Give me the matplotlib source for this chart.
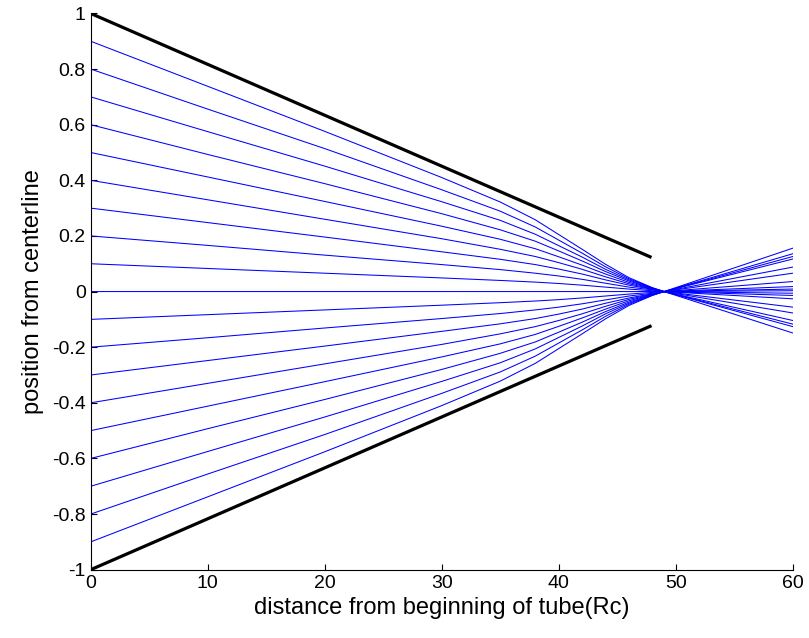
import matplotlib.pyplot as plt
import numpy as np

plt.rcParams['font.family'] = ['Liberation Sans', 'DejaVu Sans']

# tube wall: radius 1 at the inlet, 0.125 at the exit
wall_x = [0, 47.8]
wall_r = [1, 0.125]

# streamline positions up to the focus (upper half, start 0.9 ... 0.1)
x_pts = [0, 10, 20, 30, 35, 38, 40, 42, 44, 46, 48, 49]
upper_paths = [
    [0.9, 0.738, 0.576, 0.410, 0.322, 0.258, 0.205, 0.152, 0.098, 0.050, 0.014, 0],
    [0.8, 0.656, 0.514, 0.366, 0.289, 0.232, 0.185, 0.138, 0.089, 0.046, 0.013, 0],
    [0.7, 0.575, 0.451, 0.323, 0.256, 0.206, 0.165, 0.124, 0.080, 0.042, 0.012, 0],
    [0.6, 0.493, 0.388, 0.280, 0.222, 0.181, 0.146, 0.110, 0.072, 0.038, 0.011, 0],
    [0.5, 0.412, 0.324, 0.235, 0.188, 0.154, 0.125, 0.095, 0.063, 0.033, 0.010, 0],
    [0.4, 0.330, 0.260, 0.190, 0.152, 0.126, 0.104, 0.080, 0.053, 0.028, 0.009, 0],
    [0.3, 0.248, 0.196, 0.143, 0.116, 0.097, 0.081, 0.063, 0.042, 0.023, 0.008, 0],
    [0.2, 0.166, 0.131, 0.097, 0.079, 0.066, 0.056, 0.044, 0.030, 0.016, 0.006, 0],
    [0.1, 0.083, 0.066, 0.049, 0.040, 0.034, 0.029, 0.023, 0.016, 0.009, 0.003, 0],
]
center_path = [0] * len(x_pts)

# position of each streamline at x = 60 (same order: 0.9 ... -0.9)
end_x = 60
exit_y = [-0.149, -0.126, -0.117, -0.104, -0.077, -0.056, -0.026, -0.014, -0.006,
          0.003,
          0.009, 0.018, 0.036, 0.066, 0.088, 0.117, 0.126, 0.136, 0.156]

y_ticks = [-1, -0.8, -0.6, -0.4, -0.2, 0, 0.2, 0.4, 0.6, 0.8, 1]
y_labels = ['-1', '-0.8', '-0.6', '-0.4', '-0.2', '0', '0.2', '0.4', '0.6', '0.8', '1']

paths = upper_paths + [center_path] + [[-v for v in p] for p in upper_paths[::-1]]

fig = plt.figure(figsize=(8.09, 6.38), dpi=100)
ax = fig.add_axes([0.112, 0.107, 0.868, 0.872])

for p, ye in zip(paths, exit_y):
    ax.plot(x_pts + [end_x], p + [ye], color='#0000ff', lw=0.75)

ax.plot(wall_x, wall_r, color='black', lw=2.3)
ax.plot(wall_x, [-r for r in wall_r], color='black', lw=2.3)

ax.set_xlim(0, 60)
ax.set_ylim(-1, 1)
ax.set_xticks(np.arange(0, 61, 10))
ax.set_yticks(y_ticks)
ax.set_yticklabels(y_labels)

ax.spines['top'].set_visible(False)
ax.spines['right'].set_visible(False)
ax.tick_params(direction='in', length=4, labelsize=14)

ax.set_xlabel('distance from beginning of tube(Rc)', fontsize=17, labelpad=4)
ax.set_ylabel('position from centerline', fontsize=17, labelpad=6)

fig.savefig('out.png', dpi=100)
